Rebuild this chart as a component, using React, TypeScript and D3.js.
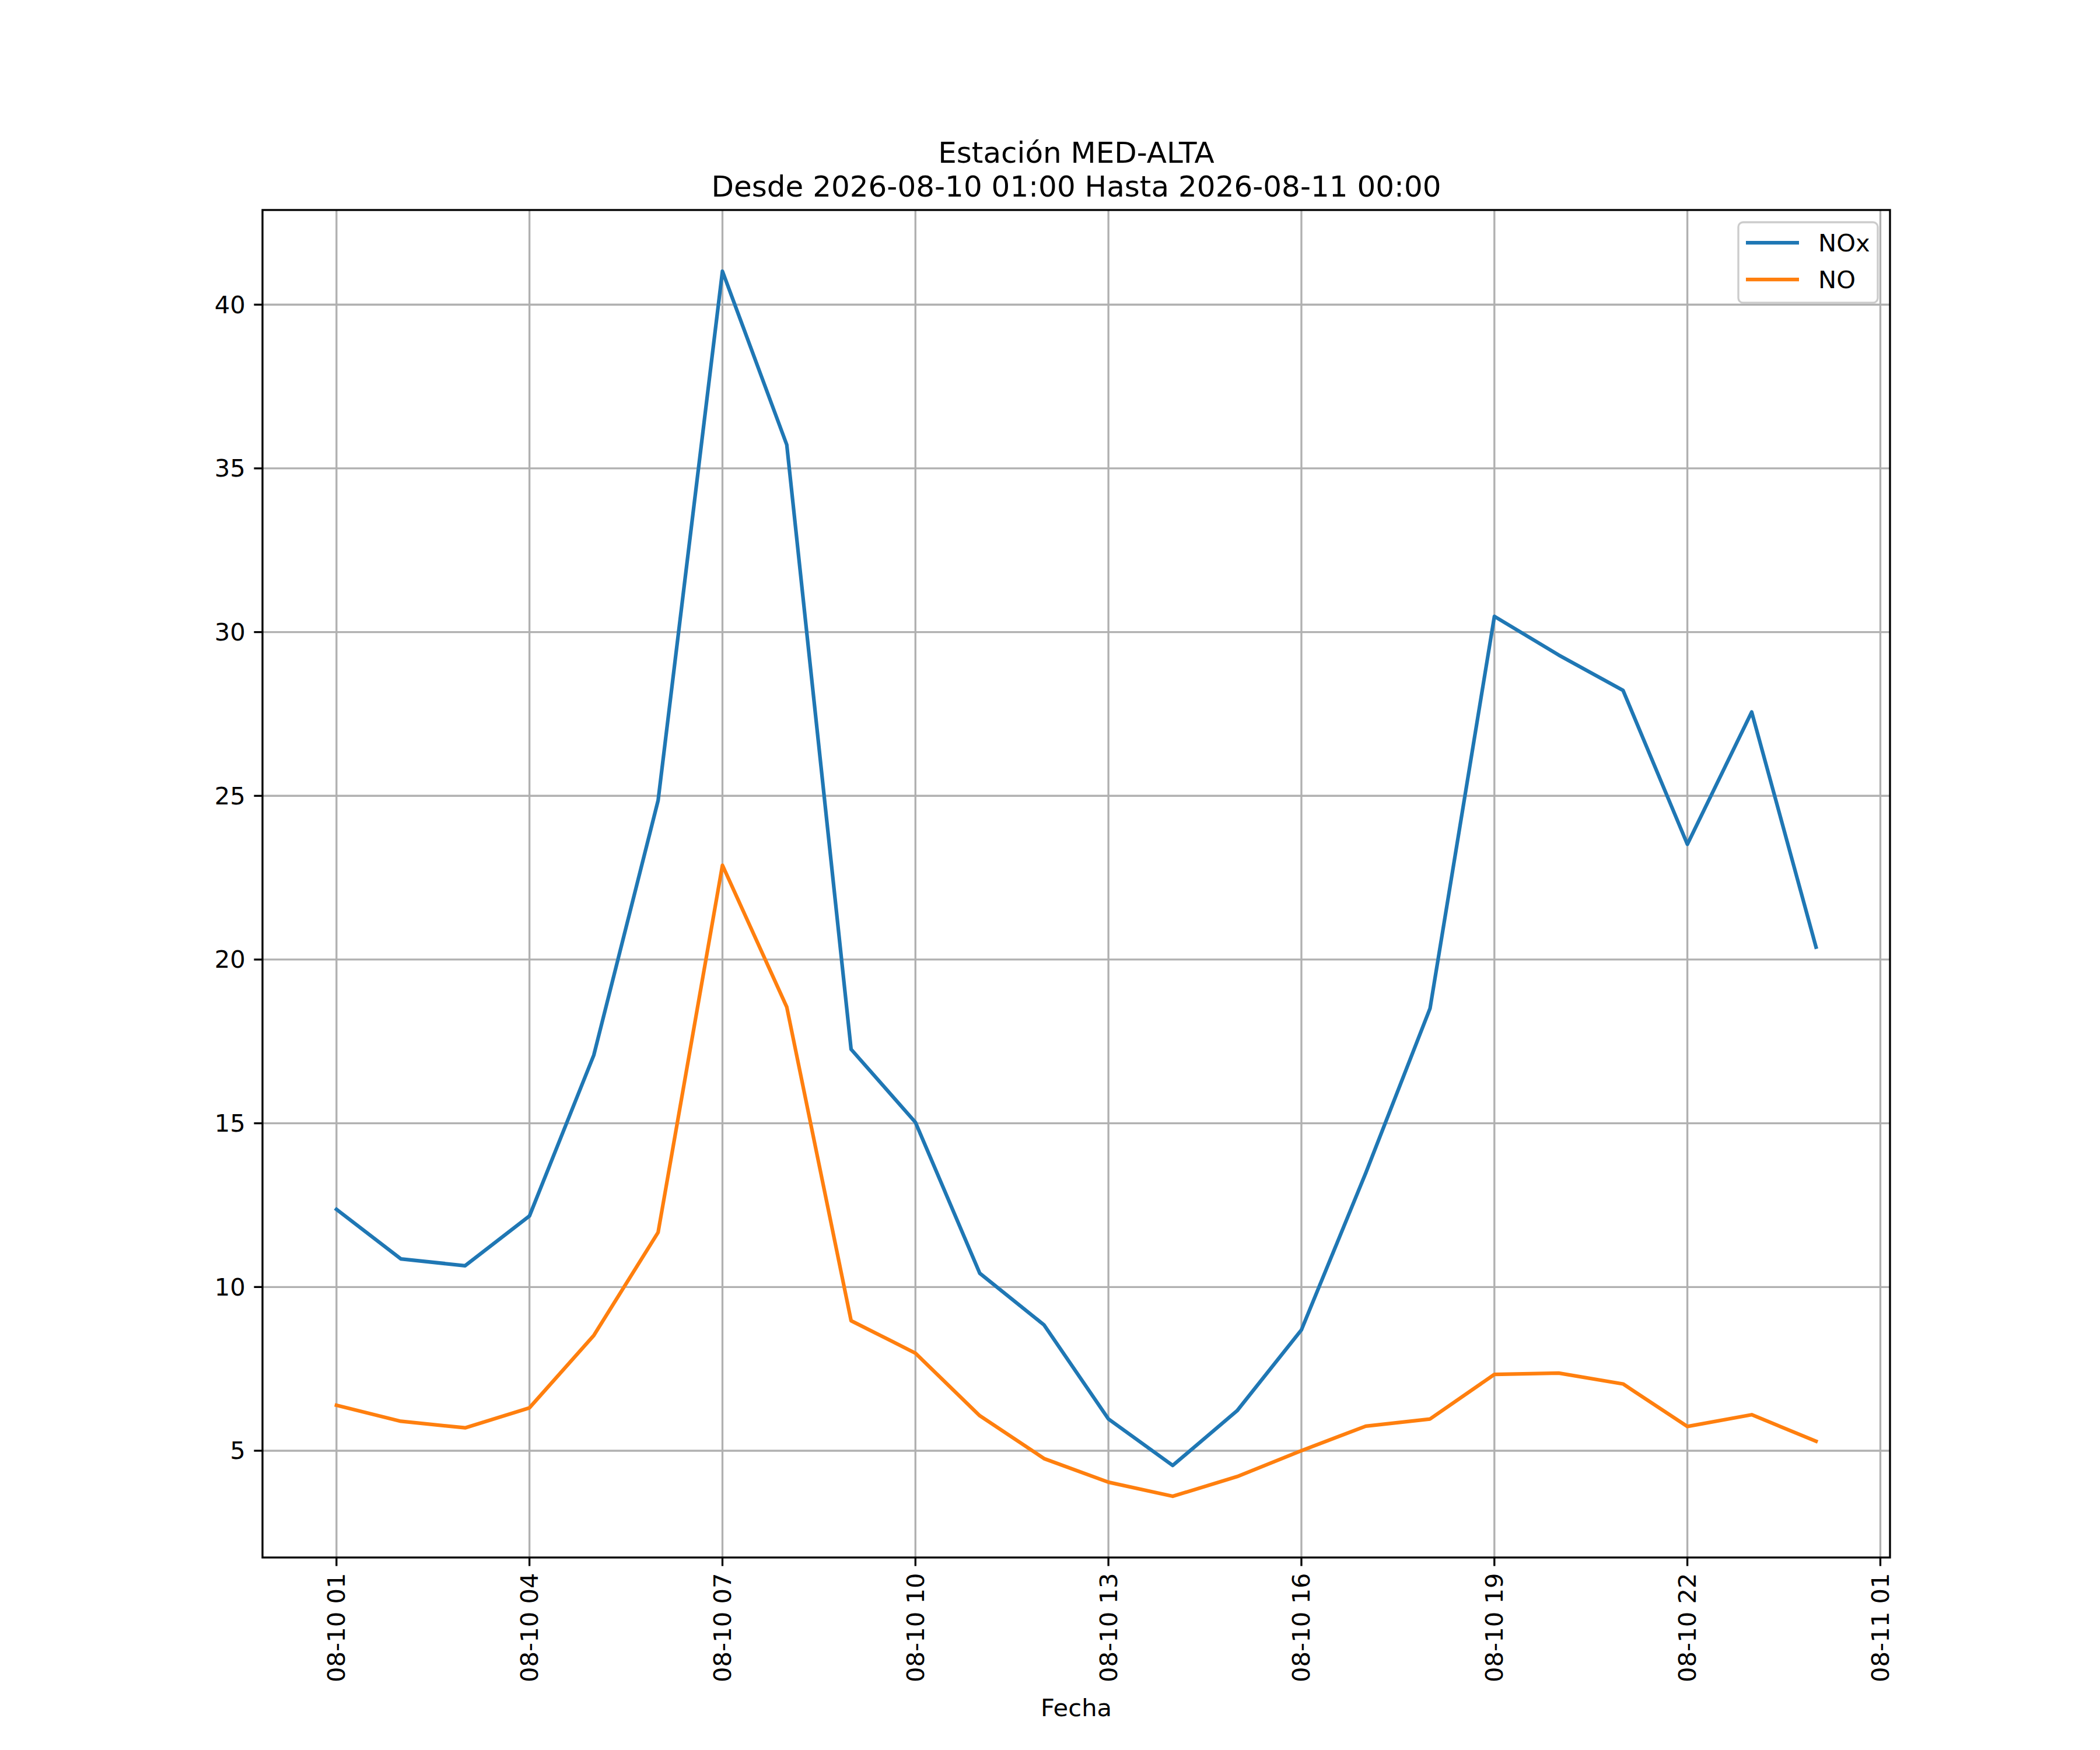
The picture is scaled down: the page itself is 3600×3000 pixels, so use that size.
import React from "react";
import * as d3 from "d3";

// hourly readings, Estación MED-ALTA
const times = [
  "2026-08-10 01:00", "2026-08-10 02:00", "2026-08-10 03:00", "2026-08-10 04:00",
  "2026-08-10 05:00", "2026-08-10 06:00", "2026-08-10 07:00", "2026-08-10 08:00",
  "2026-08-10 09:00", "2026-08-10 10:00", "2026-08-10 11:00", "2026-08-10 12:00",
  "2026-08-10 13:00", "2026-08-10 14:00", "2026-08-10 15:00", "2026-08-10 16:00",
  "2026-08-10 17:00", "2026-08-10 18:00", "2026-08-10 19:00", "2026-08-10 20:00",
  "2026-08-10 21:00", "2026-08-10 22:00", "2026-08-10 23:00", "2026-08-11 00:00",
];

const nox = [
  12.37, 10.86, 10.65, 12.17, 17.08, 24.86, 41.02, 35.72,
  17.26, 15.03, 10.42, 8.84, 5.97, 4.55, 6.22, 8.69,
  13.48, 18.51, 30.48, 29.3, 28.22, 23.52, 27.56, 20.38,
];

const no = [
  6.39, 5.9, 5.7, 6.31, 8.52, 11.67, 22.88, 18.55,
  8.97, 7.98, 6.07, 4.76, 4.04, 3.61, 4.21, 5.0,
  5.75, 5.97, 7.33, 7.37, 7.04, 5.74, 6.1, 5.29,
];

const xTicks = [
  "2026-08-10 01:00", "2026-08-10 04:00", "2026-08-10 07:00", "2026-08-10 10:00",
  "2026-08-10 13:00", "2026-08-10 16:00", "2026-08-10 19:00", "2026-08-10 22:00",
  "2026-08-11 01:00",
];
const yTicks = [5, 10, 15, 20, 25, 30, 35, 40];

const seriesNames = ["NOx", "NO"];
const colors = ["#1f77b4", "#ff7f0e"];

const W = 3600;
const H = 3000;
const left = 450;
const right = 3240;
const top = 360;
const bottom = 2670;
const fs = 41.67; // 10pt @ 300dpi
const lw = 3.33; // 0.8pt

const parse = d3.timeParse("%Y-%m-%d %H:%M");

export default function App() {
  const dates = times.map((t) => parse(t) as Date);
  const [t0, t1] = d3.extent(dates) as [Date, Date];
  const span = +t1 - +t0;
  const x = d3
    .scaleTime()
    .domain([new Date(+t0 - span * 0.05), new Date(+t1 + span * 0.05)])
    .range([left, right]);

  const all = nox.concat(no);
  const yMin = d3.min(all) as number;
  const yMax = d3.max(all) as number;
  const pad = (yMax - yMin) * 0.05;
  const y = d3.scaleLinear().domain([yMin - pad, yMax + pad]).range([bottom, top]);

  const fmt = d3.timeFormat("%m-%d %H");
  const line = d3
    .line<number>()
    .x((_, i) => x(dates[i]))
    .y((d) => y(d));

  const font = "DejaVu Sans";
  const cx = (left + right) / 2;
  const tickLen = 14.6;

  return (
    <svg
      width={W}
      height={H}
      style={{ position: "absolute", left: 0, top: 0, background: "#fff" }}
      fontFamily={font}
    >
      <rect width={W} height={H} fill="#fff" />

      {/* grid */}
      {xTicks.map((t) => {
        const px = x(parse(t) as Date);
        return <line key={t} x1={px} x2={px} y1={top} y2={bottom} stroke="#b0b0b0" strokeWidth={lw} />;
      })}
      {yTicks.map((v) => (
        <line key={v} x1={left} x2={right} y1={y(v)} y2={y(v)} stroke="#b0b0b0" strokeWidth={lw} />
      ))}

      {/* data */}
      <defs>
        <clipPath id="plot">
          <rect x={left} y={top} width={right - left} height={bottom - top} />
        </clipPath>
      </defs>
      <g clipPath="url(#plot)">
        {[nox, no].map((s, i) => (
          <path
            key={seriesNames[i]}
            d={line(s) ?? ""}
            fill="none"
            stroke={colors[i]}
            strokeWidth={6.25}
            strokeLinejoin="round"
            strokeLinecap="square"
          />
        ))}
      </g>

      {/* spines */}
      <rect x={left} y={top} width={right - left} height={bottom - top} fill="none" stroke="#000" strokeWidth={lw} />

      {/* y axis */}
      {yTicks.map((v) => (
        <g key={v}>
          <line x1={left - tickLen} x2={left} y1={y(v)} y2={y(v)} stroke="#000" strokeWidth={lw} />
          <text x={left - tickLen - 14.6} y={y(v)} textAnchor="end" dominantBaseline="central" fontSize={fs}>
            {v}
          </text>
        </g>
      ))}

      {/* x axis */}
      {xTicks.map((t) => {
        const px = x(parse(t) as Date);
        const ty = bottom + tickLen + 12;
        return (
          <g key={t}>
            <line x1={px} x2={px} y1={bottom} y2={bottom + tickLen} stroke="#000" strokeWidth={lw} />
            <text
              transform={`translate(${px},${ty}) rotate(-90)`}
              textAnchor="end"
              dominantBaseline="central"
              fontSize={fs}
            >
              {fmt(parse(t) as Date)}
            </text>
          </g>
        );
      })}
      <text x={cx} y={2942} textAnchor="middle" fontSize={fs}>
        Fecha
      </text>

      {/* title */}
      <text x={cx} y={279} textAnchor="middle" fontSize={50}>
        Estación MED-ALTA
      </text>
      <text x={cx} y={337} textAnchor="middle" fontSize={50}>
        Desde 2026-08-10 01:00 Hasta 2026-08-11 00:00
      </text>

      {/* legend */}
      <rect x={2980} y={381} width={239} height={138} rx={8} fill="#fff" fillOpacity={0.8} stroke="#cccccc" strokeWidth={lw} />
      {seriesNames.map((n, i) => {
        const ry = 416 + i * 63;
        return (
          <g key={n}>
            <line x1={2993} x2={3084} y1={ry} y2={ry} stroke={colors[i]} strokeWidth={6.25} />
            <text x={3117} y={ry} dominantBaseline="central" fontSize={fs}>
              {n}
            </text>
          </g>
        );
      })}
    </svg>
  );
}
